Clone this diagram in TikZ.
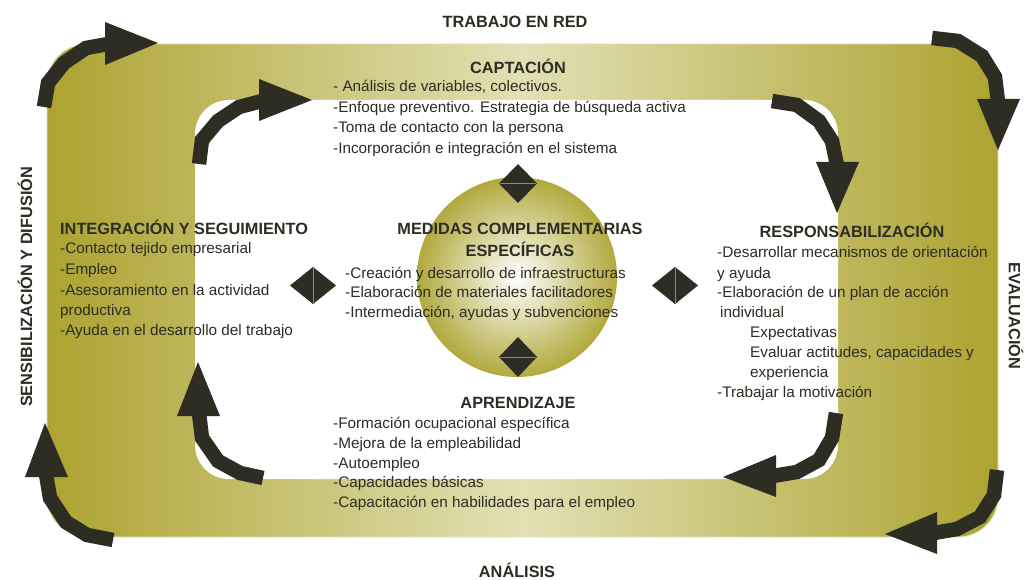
\documentclass[tikz,border=0pt]{standalone}
\usepackage{fontspec}
\setmainfont{Liberation Sans}
\definecolor{olivedark}{RGB}{172,163,48}
\definecolor{olivelight}{RGB}{226,224,180}
\definecolor{ink}{RGB}{45,45,36}
\definecolor{rimline}{RGB}{228,226,192}
\definecolor{splitline}{RGB}{140,140,125}
\begin{document}
\begin{tikzpicture}[x=1pt,y=-1pt,
  bodytxt/.style={anchor=base west, inner sep=0pt, text=ink, font=\fontsize{15.3}{20}\selectfont},
  headtxt/.style={anchor=base, inner sep=0pt, text=ink, font=\bfseries\fontsize{16.3}{20}\selectfont},
  sidetxt/.style={anchor=center, inner sep=0pt, text=ink, font=\bfseries\fontsize{16.3}{20}\selectfont},
  arrowband/.style={draw=ink, line width=14.5pt, line join=miter, line cap=butt},
  arrowtip/.style={fill=ink},
  diam/.style={fill=ink},
  splitl/.style={draw=splitline, line width=0.6pt}]
\useasboundingbox (0,0) rectangle (1031,580);
\fill[white] (0,0) rectangle (1031,580);
% frame
\shade[left color=olivedark, right color=olivedark, middle color=olivelight, rounded corners=40pt]
  (47,44) rectangle (998,537);
\draw[rimline, line width=0.8pt, rounded corners=40pt] (47,44) rectangle (998,537);
\fill[white, rounded corners=34pt] (195,100) rectangle (838,479);
% central circle
\shade[inner color=white, outer color=olivedark!90!olivelight] (517,277) circle (100);
% diamonds
\fill[diam] (290,285.5) -- (313,267) -- (336,285.5) -- (313,304) -- cycle;
\draw[splitl] (313,268) -- (313,303);
\fill[diam] (652,285.5) -- (675,267) -- (698,285.5) -- (675,304) -- cycle;
\draw[splitl] (675,268) -- (675,303);
\fill[diam] (499,183.5) -- (518,164) -- (537,183.5) -- (518,203) -- cycle;
\draw[splitl] (500,183.5) -- (536,183.5);
\fill[diam] (499,357) -- (518,337) -- (537,357) -- (518,377) -- cycle;
\draw[splitl] (500,357) -- (536,357);
% arrows
\draw[arrowband] (44,107) -- (48,83) -- (64,63) -- (86,48) -- (108,44);
\fill[arrowtip] (105,22) -- (105,65) -- (158,43) -- cycle;
\draw[arrowband] (199,164) -- (202,140) -- (218,121) -- (239,107) -- (262,101);
\fill[arrowtip] (259,79) -- (259,121) -- (312,100) -- cycle;
\draw[arrowband] (932,38) -- (958,41) -- (982,56) -- (995,77) -- (998,102);
\fill[arrowtip] (977,99) -- (1020,99) -- (998,150) -- cycle;
\draw[arrowband] (772,101) -- (797,105) -- (819,121) -- (832,141) -- (837,165);
\fill[arrowtip] (816,162) -- (859,162) -- (837,213) -- cycle;
\draw[arrowband] (997,470) -- (994,495) -- (980,517) -- (957,529) -- (934,533);
\fill[arrowtip] (937,512) -- (937,554) -- (885,534) -- cycle;
\draw[arrowband] (836,413) -- (832,438) -- (819,460) -- (797,472) -- (773,476);
\fill[arrowtip] (776,455) -- (776,497) -- (723,477) -- cycle;
\draw[arrowband] (113,540) -- (87,535) -- (66,522) -- (50,498) -- (46,474);
\fill[arrowtip] (25,477) -- (68,477) -- (45,423) -- cycle;
\draw[arrowband] (263,478) -- (240,473) -- (218,461) -- (202,438) -- (199,413);
\fill[arrowtip] (177,416) -- (220,416) -- (198,362) -- cycle;
% side labels
\node[headtxt] (trabajo) at (515,28) {TRABAJO EN RED};
\node[headtxt] (analisis) at (517,577) {ANÁLISIS};
\node[sidetxt, rotate=90] (sensib) at (25,287) {SENSIBILIZACIÓN Y DIFUSIÓN};
\node[sidetxt, rotate=-90] (evalua) at (1016,316) {EVALUACIÓN};
% captacion
\node[headtxt] (capt) at (518,74) {CAPTACIÓN};
\node[bodytxt] (capt1) at (333,92) {- Análisis de variables, colectivos.};
\node[bodytxt] (capt2) at (333,113) {-Enfoque preventivo. Estrategia de búsqueda activa};
\node[bodytxt] (capt3) at (333,133) {-Toma de contacto con la persona};
\node[bodytxt] (capt4) at (333,154) {-Incorporación e integración en el sistema};
% integracion
\node[headtxt, anchor=base west] (integ) at (60,235) {INTEGRACIÓN Y SEGUIMIENTO};
\node[bodytxt] (integ1) at (60,254) {-Contacto tejido empresarial};
\node[bodytxt] (integ2) at (60,274.5) {-Empleo};
\node[bodytxt] (integ3) at (60,295) {-Asesoramiento en la actividad};
\node[bodytxt] (integ4) at (60,315) {productiva};
\node[bodytxt] (integ5) at (60,335) {-Ayuda en el desarrollo del trabajo};
% medidas
\node[headtxt] (medid) at (520,235) {MEDIDAS COMPLEMENTARIAS};
\node[headtxt] (medidb) at (520,257) {ESPECÍFICAS};
\node[bodytxt] (medid1) at (345,278) {-Creación y desarrollo de infraestructuras};
\node[bodytxt] (medid2) at (345,297) {-Elaboración de materiales facilitadores};
\node[bodytxt] (medid3) at (345,317) {-Intermediación, ayudas y subvenciones};
% responsabilizacion
\node[headtxt] (resp) at (852,237) {RESPONSABILIZACIÓN};
\node[bodytxt] (resp1) at (717,258) {-Desarrollar mecanismos de orientación};
\node[bodytxt] (resp2) at (717,278) {y ayuda};
\node[bodytxt] (resp3) at (717,298) {-Elaboración de un plan de acción};
\node[bodytxt] (resp4) at (720,317) {individual};
\node[bodytxt] (resp5) at (750,337) {Expectativas};
\node[bodytxt] (resp6) at (750,357) {Evaluar actitudes, capacidades y};
\node[bodytxt] (resp7) at (750,377) {experiencia};
\node[bodytxt] (resp8) at (717,397) {-Trabajar la motivación};
% aprendizaje
\node[headtxt] (apren) at (518,408) {APRENDIZAJE};
\node[bodytxt] (apren1) at (333,428) {-Formación ocupacional específica};
\node[bodytxt] (apren2) at (333,448) {-Mejora de la empleabilidad};
\node[bodytxt] (apren3) at (333,468) {-Autoempleo};
\node[bodytxt] (apren4) at (333,487) {-Capacidades básicas};
\node[bodytxt] (apren5) at (333,507) {-Capacitación en habilidades para el empleo};
\end{tikzpicture}
\end{document}
